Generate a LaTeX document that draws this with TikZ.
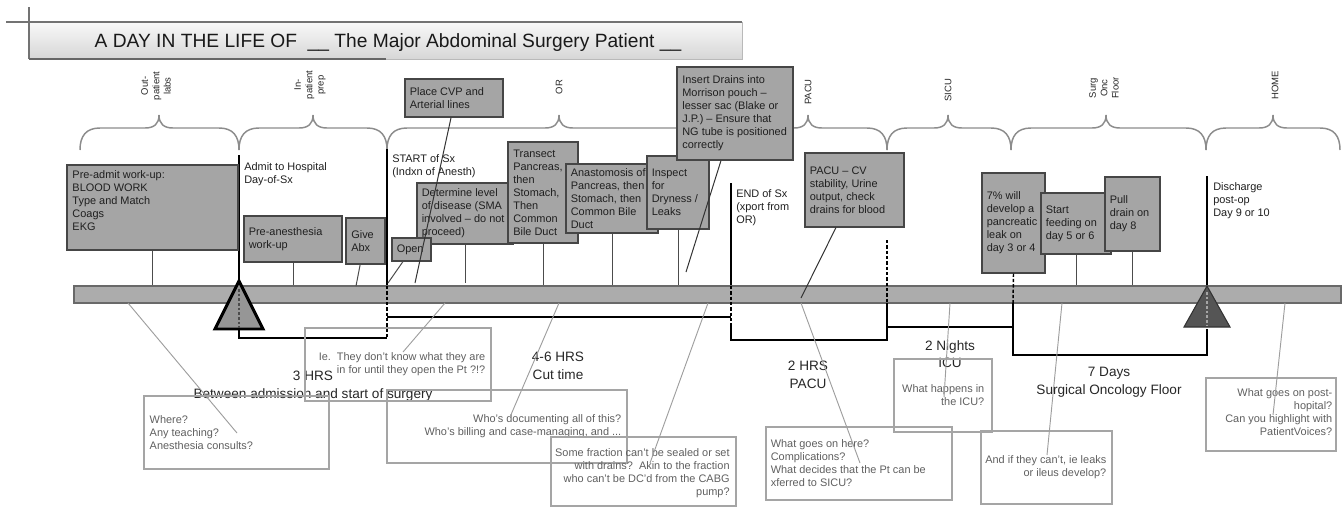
\documentclass[tikz,border=0pt]{standalone}
\usepackage{fontspec}
\setmainfont{Liberation Sans}
\usetikzlibrary{fit,calc}
\definecolor{boxfill}{RGB}{165,165,165}
\definecolor{boxline}{RGB}{70,70,70}
\definecolor{barfill}{RGB}{172,172,172}
\definecolor{barline}{RGB}{105,105,105}
\definecolor{bracecol}{RGB}{140,140,140}
\definecolor{ctext}{RGB}{95,95,95}
\definecolor{cline}{RGB}{165,165,165}
\definecolor{trione}{RGB}{150,150,150}
\definecolor{tritwo}{RGB}{85,85,85}
\newcommand\mybrace[3]{%
\draw[bracestyle] (#1,150) .. controls (#1,136) and ({#1+6},128) .. ({#1+20},128) -- ({#2-14},128) .. controls ({#2-5},128) and (#2,124) .. (#2,115) .. controls (#2,124) and ({#2+5},128) .. ({#2+14},128) -- ({#3-20},128) .. controls ({#3-6},128) and (#3,136) .. (#3,150);}
\begin{document}
\begin{tikzpicture}[x=0.75pt,y=-0.75pt,
  gbox/.style={draw=boxline, fill=boxfill, line width=0.8pt, inner sep=0pt},
  btxt/.style={font=\fontsize{8.2}{9.75}\selectfont, align=left, inner sep=0pt, text=black!88},
  cbox/.style={draw=cline, line width=0.8pt, inner sep=0pt},
  ctxt/.style={font=\fontsize{8.2}{9.75}\selectfont, inner sep=0pt, text=ctext},
  rlab/.style={font=\fontsize{7.1}{8.6}\selectfont, align=center, rotate=90, inner sep=0pt, text=black!85},
  blab/.style={font=\fontsize{10.2}{13.2}\selectfont, align=center, inner sep=0pt, text=black!85},
  stem/.style={draw=black!70, line width=0.75pt},
  cstem/.style={draw=black!38, line width=0.7pt},
  tline/.style={draw=black, line width=2pt},
  dline/.style={draw=black, line width=1.1pt, dash pattern=on 2.5pt off 1.5pt},
  brk/.style={draw=black, line width=1.2pt},
  bracestyle/.style={draw=bracecol, line width=1.1pt},
]
\useasboundingbox (0,0) rectangle (1344,508);

% ---------- title ----------
\node[fit={(29,22) (742,59)}, inner sep=0pt, top color=gray!5, bottom color=gray!32, draw=gray!55, line width=0.6pt] (titlebox) {};
\draw[line width=0.8pt, draw=black!55] (6,22) -- (742,22);
\draw[line width=0.8pt, draw=black!55] (29,7) -- (29,59);
\draw[line width=1pt, draw=black!60] (29,59) -- (386,59);
\node[font=\fontsize{14.4}{17}\selectfont, anchor=base, inner sep=0pt, text=black!90] (titleT) at (388,47) {A DAY IN THE LIFE OF \ \_\_ The Major Abdominal Surgery Patient \_\_};

% ---------- braces and phase labels ----------
\mybrace{80}{159}{239}
\mybrace{239}{313}{387}
\mybrace{387}{559}{731}
\mybrace{731}{808}{887}
\mybrace{887}{948}{1011}
\mybrace{1011}{1106}{1206}
\mybrace{1206}{1273}{1340}
\node[rlab] (labOut) at (156,86) {Out-\\patient\\labs};
\node[rlab] (labIn) at (310,85) {In-\\patient\\prep};
\node[rlab] (labOR) at (559,87) {OR};
\node[rlab] (labPACU) at (808,92) {PACU};
\node[rlab] (labSICU) at (948,90) {SICU};
\node[rlab] (labSurg) at (1104,88) {Surg\\Onc\\Floor};
\node[rlab] (labHome) at (1275,85) {HOME};

% ---------- timeline bar ----------
\node[fit={(74,286) (1341,303)}, inner sep=0pt, fill=barfill, draw=barline, line width=0.8pt] (bar) {};

% ---------- milestone lines ----------
\coordinate (admitTop) at (239,155);
\coordinate (startTop) at (387,149);
\coordinate (endTop) at (731,183);
\coordinate (dischTop) at (1207,176);
\draw[tline] (admitTop) -- (admitTop |- bar.north);
\draw[tline] (startTop) -- (startTop |- bar.north);
\draw[tline] (endTop) -- (endTop |- bar.north);
\draw[tline] (dischTop) -- (dischTop |- bar.north);
\node[btxt, anchor=west] (admitT) at (244,174) {Admit to Hospital\\Day-of-Sx};
\node[btxt, anchor=west] (startT) at (392,166.5) {START of Sx\\(Indxn of Anesth)};
\node[btxt, anchor=west] (endT) at (736,208) {END of Sx\\(xport from\\OR)};
\node[btxt, anchor=west] (dischT) at (1213,201) {Discharge\\post-op\\Day 9 or 10};

% ---------- event boxes ----------
\node[gbox, fit={(67,165) (238,250)}] (preadmit) {};
\node[btxt, anchor=west] (preadmitT) at ([xshift=4.3pt,yshift=5.5pt]preadmit.west) {Pre-admit work-up:\\BLOOD WORK\\Type and Match\\Coags\\EKG};
\node[gbox, fit={(244,216) (342,262)}] (preanes) {};
\node[btxt, anchor=west] (preanesT) at ([xshift=3.8pt]preanes.west) {Pre-anesthesia\\work-up};
\node[gbox, fit={(346,218) (385,264)}] (abx) {};
\node[btxt, anchor=west] (abxT) at ([xshift=4.2pt]abx.west) {Give\\Abx};
\node[gbox, fit={(405,79) (503,117)}] (cvp) {};
\node[btxt, anchor=west] (cvpT) at ([xshift=3.8pt]cvp.west) {Place CVP and\\Arterial lines};
\node[gbox, fit={(417,183) (513,244)}] (determ) {};
\node[btxt, anchor=west] (determT) at ([xshift=3.8pt]determ.west) {Determine level\\of disease (SMA\\involved – do not\\proceed)};
\node[gbox, fit={(392,238) (431,261)}] (open) {};
\node[btxt, anchor=west] (openT) at ([xshift=3.8pt]open.west) {Open};
\node[gbox, fit={(508,142) (578,243)}] (transect) {};
\node[btxt, anchor=west] (transectT) at ([xshift=4.2pt]transect.west) {Transect\\Pancreas,\\then\\Stomach,\\Then\\Common\\Bile Duct};
\node[gbox, fit={(566,164) (658,233)}] (anast) {};
\node[btxt, anchor=west] (anastT) at ([xshift=3.8pt]anast.west) {Anastomosis of\\Pancreas, then\\Stomach, then\\Common Bile\\Duct};
\node[gbox, fit={(647,156) (709,229)}] (inspect) {};
\node[btxt, anchor=west] (inspectT) at ([xshift=3.8pt]inspect.west) {Inspect\\for\\Dryness /\\Leaks};
\node[gbox, fit={(677,67) (793,160)}] (insert) {};
\node[btxt, anchor=west] (insertT) at ([xshift=4.2pt]insert.west) {Insert Drains into\\Morrison pouch –\\lesser sac (Blake or\\J.P.) – Ensure that\\NG tube is positioned\\correctly};
\node[gbox, fit={(805,153) (904,227)}] (pacu) {};
\node[btxt, anchor=west] (pacuT) at ([xshift=3.8pt]pacu.west) {PACU – CV\\stability, Urine\\output, check\\drains for blood};
\node[gbox, fit={(982,173) (1045,273)}] (pct) {};
\node[btxt, anchor=west] (pctT) at ([xshift=3.8pt]pct.west) {7\% will\\develop a\\pancreatic\\leak on\\day 3 or 4};
\node[gbox, fit={(1041,193) (1111,254)}] (feed) {};
\node[btxt, anchor=west] (feedT) at ([xshift=3.8pt]feed.west) {Start\\feeding on\\day 5 or 6};
\node[gbox, fit={(1105,177) (1160,251)}] (pull) {};
\node[btxt, anchor=west] (pullT) at ([xshift=3.8pt]pull.west) {Pull\\drain on\\day 8};

% ---------- stems ----------
\coordinate (abxE) at (356,286);
\coordinate (openE) at (388,283);
\coordinate (cvpE) at (415,283);
\coordinate (determE) at (465,283);
\coordinate (insE) at (686,272);
\coordinate (pacuE) at (801,298);
\draw[stem] (preadmit.south) -- (preadmit.south |- bar.north);
\draw[stem] (preanes.south) -- (preanes.south |- bar.north);
\draw[stem] ([xshift=-4pt]abx.south) -- (abxE);
\draw[stem] ([xshift=-6.4pt]open.south) -- (openE);
\draw[stem] (determ.south) -- (determE);
\draw[stem] (transect.south) -- (transect.south |- bar.north);
\draw[stem] (anast.south) -- (anast.south |- bar.north);
\draw[stem] (inspect.south) -- (inspect.south |- bar.north);
\draw[stem] (feed.south) -- (feed.south |- bar.north);
\draw[stem] (pull.south) -- (pull.south |- bar.north);
\draw[stem, draw=black!80] ([xshift=-2.2pt]cvp.south) -- (cvpE);
\draw[stem, draw=black!80] ([xshift=-10.5pt]insert.south) -- (insE);
\draw[stem, draw=black!80] ([xshift=-13.9pt]pacu.south) -- (pacuE);

% ---------- dashed markers and duration brackets ----------
\coordinate (pacuTop) at (887,240);
\draw[dline] (387,286) -- (387,338);
\draw[dline] (731,286) -- (731,324);
\draw[dline] (pacuTop) -- (887,303);
\draw[dline] (pct.south) -- (1013,303);
\draw[line width=2.2pt, fill=trione, line join=miter] (239,281) -- (263,329) -- (215,329) -- cycle;
\draw[draw=black!70, line width=0.8pt, dash pattern=on 2pt off 1.5pt] (239,289) -- (239,328);
\draw[fill=tritwo, draw=black!80, line width=0.8pt] (1207,286) -- (1230,327) -- (1184,327) -- cycle;
\draw[draw=black!35, line width=0.8pt, dash pattern=on 2pt off 1.5pt] (1207,292) -- (1207,325);
\draw[brk] (239,330) -- (239,338) -- (387,338);
\draw[brk] (387,317) -- (731,317);
\draw[brk] (731,324) -- (731,340) -- (887,340) -- (887,303);
\draw[brk] (887,327) -- (1013,327);
\draw[brk] (1013,303) -- (1013,355) -- (1207,355) -- (1207,329);

% ---------- duration labels ----------
\node[blab] (l3) at (313,386) {3 HRS\\Between admission and start of surgery};
\node[blab] (l46) at (558,366) {4-6 HRS\\Cut time};
\node[blab] (l2h) at (808,375) {2 HRS\\PACU};
\node[blab] (l2n) at (950,354) {2 Nights\\ICU};
\node[blab] (l7) at (1109,382) {7 Days\\Surgical Oncology Floor};

% ---------- question boxes ----------
\node[cbox, fit={(144,396) (329,469)}] (qwhere) {};
\node[ctxt, anchor=west, align=left] (qwhereT) at ([xshift=4.5pt]qwhere.west) {Where?\\Any teaching?\\Anesthesia consults?};
\node[cbox, fit={(305,328) (491,401)}] (qie) {};
\node[ctxt, anchor=east, align=right] (qieT) at ([xshift=-4.5pt]qie.east) {Ie.\ \ They don't know what they are\\in for until they open the Pt ?!?};
\node[cbox, fit={(387,390) (627,463)}] (qwho) {};
\node[ctxt, anchor=east, align=right] (qwhoT) at ([xshift=-4.5pt]qwho.east) {Who's documenting all of this?\\Who's billing and case-managing, and ...};
\node[cbox, fit={(551,437) (736,506)}] (qsome) {};
\node[ctxt, anchor=east, align=right] (qsomeT) at ([xshift=-5pt,yshift=-1.5pt]qsome.east) {Some fraction can't be sealed or set\\with drains?\ \ Akin to the fraction\\who can't be DC'd from the CABG\\pump?};
\node[cbox, fit={(766,427) (952,500)}] (qpacu) {};
\node[ctxt, anchor=west, align=left] (qpacuT) at ([xshift=3.8pt]qpacu.west) {What goes on here?\\Complications?\\What decides that the Pt can be\\xferred to SICU?};
\node[cbox, fit={(894,359) (992,432)}] (qicu) {};
\node[ctxt, anchor=east, align=right] (qicuT) at ([xshift=-6pt]qicu.east) {What happens in\\the ICU?};
\node[cbox, fit={(981,431) (1112,504)}] (qleak) {};
\node[ctxt, anchor=east, align=right] (qleakT) at ([xshift=-4.5pt]qleak.east) {And if they can't, ie leaks\\or ileus develop?};
\node[cbox, fit={(1206,378) (1336,451)}] (qpost) {};
\node[ctxt, anchor=east, align=right] (qpostT) at ([xshift=-3pt,yshift=1.5pt]qpost.east) {What goes on post-\\hopital?\\Can you highlight with\\PatientVoices?};

% ---------- question connectors ----------
\coordinate (c1s) at (128,303); \coordinate (c1e) at (237,433);
\coordinate (c2s) at (445,303); \coordinate (c2e) at (403,352);
\coordinate (c3s) at (559,303); \coordinate (c3e) at (510,417);
\coordinate (c4s) at (708,303); \coordinate (c4e) at (650,463);
\coordinate (c5s) at (801,303); \coordinate (c5e) at (860,463);
\coordinate (c6s) at (950,303); \coordinate (c6e) at (944,397);
\coordinate (c7s) at (1062,303); \coordinate (c7e) at (1047,455);
\coordinate (c8s) at (1285,303); \coordinate (c8e) at (1273,415);
\draw[cstem] (c1s) -- (c1e);
\draw[cstem] (c2s) -- (c2e);
\draw[cstem] (c3s) -- (c3e);
\draw[cstem] (c4s) -- (c4e);
\draw[cstem] (c5s) -- (c5e);
\draw[cstem] (c6s) -- (c6e);
\draw[cstem] (c7s) -- (c7e);
\draw[cstem] (c8s) -- (c8e);
\end{tikzpicture}
\end{document}
